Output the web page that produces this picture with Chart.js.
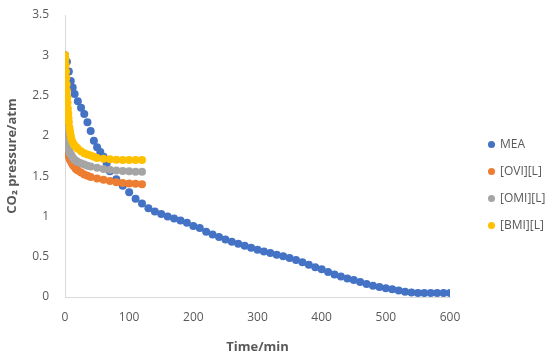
<!DOCTYPE html>
<html><head><meta charset="utf-8">
<script src="https://cdn.jsdelivr.net/npm/chart.js@4"></script>
<style>html,body{margin:0;padding:0;background:#fff;} #wrap{width:554px;height:359px;position:relative;}</style>
</head><body><div id="wrap"><canvas id="c" width="554" height="359"></canvas></div>
<script>
const seriesNames = ['MEA', '[OVI][L]', '[OMI][L]', '[BMI][L]'];
const seriesColors = ['#4472C4', '#ED7D31', '#A5A5A5', '#FFC000'];

const meaTime = [0,3,6,9,12,15,20,25,30,35,40,45,50,55,60,65,70,80,90,100,110,120,
  130,140,150,160,170,180,190,200,210,220,230,240,250,260,270,280,290,300,310,320,330,340,350,
  360,370,380,390,400,410,420,430,440,450,460,470,480,490,500,510,520,530,540,550,560,570,580,590,600];
const meaPressure = [3.0,2.92,2.8,2.68,2.6,2.52,2.43,2.35,2.27,2.17,2.06,1.94,1.86,1.8,1.74,1.66,1.56,1.46,1.38,1.3,1.22,1.16,
  1.1,1.06,1.03,1.0,0.975,0.95,0.92,0.88,0.855,0.81,0.775,0.745,0.715,0.685,0.66,0.635,0.61,0.585,0.565,0.545,0.525,0.505,0.485,
  0.46,0.43,0.4,0.37,0.345,0.31,0.28,0.255,0.23,0.21,0.185,0.16,0.14,0.125,0.11,0.095,0.08,0.065,0.055,0.05,0.05,0.05,0.05,0.05,0.05];

const oviTime = [0,0.5,1,1.5,2,3,4,5,6,7,8,10,12,14,17,20,25,30,35,40,50,60,70,80,90,100,110,120];
const oviPressure = [3.0,2.7,2.4,2.15,2.0,1.9,1.84,1.79,1.75,1.72,1.7,1.67,1.64,1.62,1.59,1.57,1.545,1.52,1.505,1.49,1.47,1.455,1.44,1.425,1.415,1.41,1.405,1.4];

const omiTime = [0,0.5,1,1.5,2,2.5,3,4,5,6,7,8,10,12,14,17,20,25,30,35,40,50,60,70,80,90,100,110,120];
const omiPressure = [3.0,2.8,2.6,2.4,2.1,2.0,1.95,1.9,1.86,1.83,1.8,1.78,1.76,1.73,1.71,1.69,1.675,1.66,1.645,1.63,1.62,1.605,1.59,1.58,1.57,1.565,1.56,1.555,1.555];

const bmiTime = [0,0.5,1,1.5,2,2.5,3,3.5,4,4.5,5,5.5,6,7,8,9,10,12,14,16,18,20,25,30,35,40,45,50,60,70,80,90,100,110,120];
const bmiPressure = [3.0,2.95,2.88,2.8,2.72,2.64,2.56,2.48,2.41,2.34,2.28,2.22,2.17,2.1,2.05,2.0,1.96,1.92,1.89,1.87,1.855,1.84,1.81,1.785,1.77,1.755,1.74,1.725,1.715,1.71,1.705,1.7,1.7,1.7,1.7];

const xTicks = [0, 100, 200, 300, 400, 500, 600];
const yTicks = [0, 0.5, 1, 1.5, 2, 2.5, 3, 3.5];

const seriesTimes = [meaTime, oviTime, omiTime, bmiTime];
const seriesPressures = [meaPressure, oviPressure, omiPressure, bmiPressure];

const FONT = 'Open Sans';
const TXT = '#595959';
const AXIS = '#D9D9D9';

const datasets = seriesNames.map((name, i) => ({
  label: name,
  data: seriesTimes[i].map((t, k) => ({x: t, y: seriesPressures[i][k]})),
  backgroundColor: seriesColors[i],
  borderColor: seriesColors[i],
  pointBackgroundColor: seriesColors[i],
  pointBorderColor: seriesColors[i],
  pointBorderWidth: 0,
  borderWidth: 0,
  pointRadius: 4,
  pointHoverRadius: 4,
  showLine: false,
  yAxisID: 'y',
  xAxisID: 'x',
  order: seriesNames.length - i
}));

new Chart(document.getElementById('c'), {
  type: 'scatter',
  data: { datasets },
  options: {
    responsive: false,
    devicePixelRatio: 1,
    animation: false,
    layout: { padding: { top: 15, right: 0, bottom: 4, left: 0 } },
    plugins: {
      tooltip: { enabled: false },
      legend: {
        position: 'right',
        reverse: true,
        maxWidth: 80,
        labels: {
          usePointStyle: true,
          pointStyle: 'circle',
          boxWidth: 5,
          boxHeight: 5,
          padding: 15,
          color: TXT,
          font: { family: FONT, size: 12 }
        }
      }
    },
    scales: {
      x: {
        type: 'linear',
        position: 'bottom',
        min: 0, max: 600,
        afterBuildTicks: s => { s.ticks = xTicks.map(v => ({ value: v })); },
        afterFit: s => { s.height = 58; s.paddingLeft = 8; s.paddingRight = 8; },
        grid: { display: false, drawTicks: false },
        border: { display: true, color: AXIS, width: 1 },
        ticks: { color: TXT, font: { family: FONT, size: 12 }, padding: 13, maxRotation: 0, callback: v => String(v) },
        title: { display: true, text: 'Time/min', color: TXT, font: { family: FONT, size: 13, weight: 'bold' }, padding: { top: 0, bottom: 0 } }
      },
      y: {
        type: 'linear',
        position: 'left',
        min: 0, max: 3.5,
        afterBuildTicks: s => { s.ticks = yTicks.map(v => ({ value: v })); },
        afterFit: s => { s.width = 65; s.paddingTop = 8; s.paddingBottom = 8; },
        grid: { display: false, drawTicks: false },
        border: { display: true, color: AXIS, width: 1 },
        ticks: { color: TXT, font: { family: FONT, size: 12 }, padding: 16, callback: v => String(v) },
        title: { display: true, text: 'CO\u2082 pressure/atm', color: TXT, font: { family: FONT, size: 13, weight: 'bold' }, padding: { top: 4, bottom: 0 } }
      },
      spacer: {
        type: 'linear',
        position: 'right',
        display: true,
        grid: { display: false, drawTicks: false },
        border: { display: false },
        ticks: { display: false },
        afterFit: s => { s.width = 24; s.paddingTop = 0; s.paddingBottom = 0; }
      }
    }
  }
});
</script>
</body></html>
